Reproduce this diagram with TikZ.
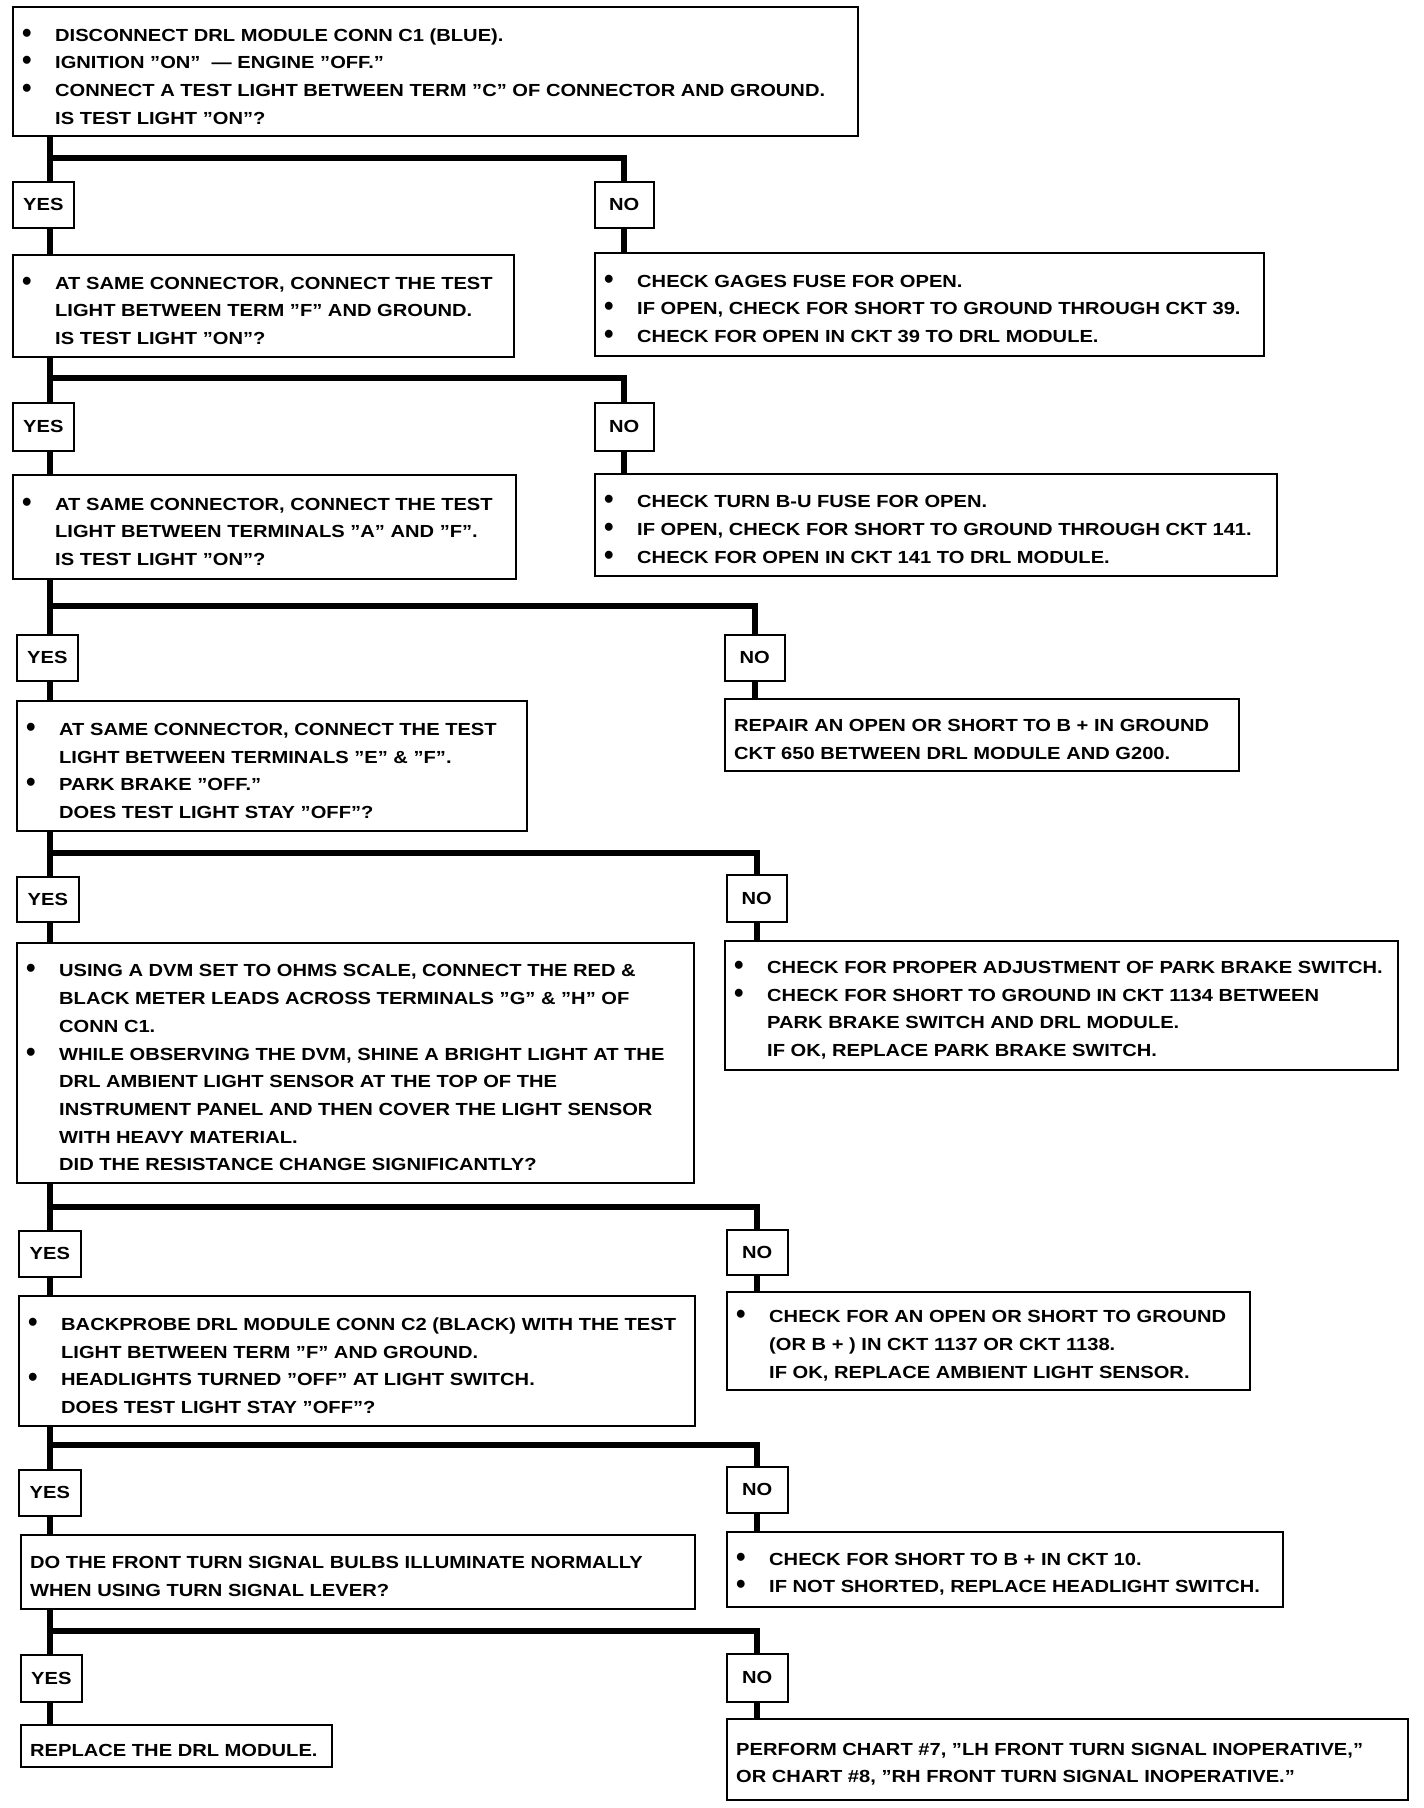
\documentclass[tikz,border=0pt]{standalone}
\usepackage{fontspec}
\setmainfont{Liberation Sans}[FakeStretch=1.15]
\newcommand\txt{\fontsize{17.5}{27.7}\selectfont\bfseries}
\newcommand\bul{\makebox[33pt][l]{\raisebox{-1pt}{\scalebox{1.35}[1.6]{•}}}}
\newcommand\ind{\hspace*{33pt}}
\tikzset{
  bx/.style={draw, line width=1.6pt, anchor=north west, inner sep=0pt},
  tx/.style={anchor=west, align=left, inner sep=0pt, font=\txt, yshift=-5pt},
  yn/.style={draw, line width=1.6pt, anchor=north west, align=center, inner sep=0pt, font=\txt},
  conn/.style={line width=6pt},
}
\begin{document}
\begin{tikzpicture}[x=1pt, y=-1pt]
\useasboundingbox (0,0) rectangle (1424,1808);
% level 1
\node[bx, minimum width=845pt, minimum height=129pt] (b1) at (12,6) {};
\node[tx] (b1t) at ([xshift=10pt]b1.west) {%
\bul DISCONNECT DRL MODULE CONN C1 (BLUE).\\
\bul IGNITION "ON" \ --- ENGINE "OFF."\\
\bul CONNECT A TEST LIGHT BETWEEN TERM "C" OF CONNECTOR AND GROUND.\\
\ind IS TEST LIGHT "ON"?};
\node[yn, minimum width=61pt, minimum height=46pt] (y1) at (12,181) {YES};
\node[yn, minimum width=59pt, minimum height=46pt] (n1) at (594,181) {NO};
% level 2
\node[bx, minimum width=501pt, minimum height=102pt] (b2) at (12,254) {};
\node[tx] (b2t) at ([xshift=10pt]b2.west) {%
\bul AT SAME CONNECTOR, CONNECT THE TEST\\
\ind LIGHT BETWEEN TERM "F" AND GROUND.\\
\ind IS TEST LIGHT "ON"?};
\node[bx, minimum width=669pt, minimum height=103pt] (r2) at (594,252) {};
\node[tx] (r2t) at ([xshift=10pt]r2.west) {%
\bul CHECK GAGES FUSE FOR OPEN.\\
\bul IF OPEN, CHECK FOR SHORT TO GROUND THROUGH CKT 39.\\
\bul CHECK FOR OPEN IN CKT 39 TO DRL MODULE.};
\node[yn, minimum width=61pt, minimum height=48pt] (y2) at (12,402) {YES};
\node[yn, minimum width=59pt, minimum height=48pt] (n2) at (594,402) {NO};
% level 3
\node[bx, minimum width=503pt, minimum height=104pt] (b3) at (12,474) {};
\node[tx] (b3t) at ([xshift=10pt]b3.west) {%
\bul AT SAME CONNECTOR, CONNECT THE TEST\\
\ind LIGHT BETWEEN TERMINALS "A" AND "F".\\
\ind IS TEST LIGHT "ON"?};
\node[bx, minimum width=682pt, minimum height=102pt] (r3) at (594,473) {};
\node[tx] (r3t) at ([xshift=10pt]r3.west) {%
\bul CHECK TURN B-U FUSE FOR OPEN.\\
\bul IF OPEN, CHECK FOR SHORT TO GROUND THROUGH CKT 141.\\
\bul CHECK FOR OPEN IN CKT 141 TO DRL MODULE.};
\node[yn, minimum width=61pt, minimum height=46pt] (y3) at (16,634) {YES};
\node[yn, minimum width=60pt, minimum height=46pt] (n3) at (724,634) {NO};
% level 4
\node[bx, minimum width=510pt, minimum height=130pt] (b4) at (16,700) {};
\node[tx] (b4t) at ([xshift=10pt]b4.west) {%
\bul AT SAME CONNECTOR, CONNECT THE TEST\\
\ind LIGHT BETWEEN TERMINALS "E" \& "F".\\
\bul PARK BRAKE "OFF."\\
\ind DOES TEST LIGHT STAY "OFF"?};
\node[bx, minimum width=514pt, minimum height=72pt] (r4) at (724,698) {};
\node[tx] (r4t) at ([xshift=10pt]r4.west) {%
REPAIR AN OPEN OR SHORT TO B + IN GROUND\\
CKT 650 BETWEEN DRL MODULE AND G200.};
\node[yn, minimum width=62pt, minimum height=45pt] (y4) at (16,876) {YES};
\node[yn, minimum width=60pt, minimum height=47pt] (n4) at (726,874) {NO};
% level 5
\node[bx, minimum width=677pt, minimum height=240pt] (b5) at (16,942) {};
\node[tx] (b5t) at ([xshift=10pt]b5.west) {%
\bul USING A DVM SET TO OHMS SCALE, CONNECT THE RED \&\\
\ind BLACK METER LEADS ACROSS TERMINALS "G" \& "H" OF\\
\ind CONN C1.\\
\bul WHILE OBSERVING THE DVM, SHINE A BRIGHT LIGHT AT THE\\
\ind DRL AMBIENT LIGHT SENSOR AT THE TOP OF THE\\
\ind INSTRUMENT PANEL AND THEN COVER THE LIGHT SENSOR\\
\ind WITH HEAVY MATERIAL.\\
\ind DID THE RESISTANCE CHANGE SIGNIFICANTLY?};
\node[bx, minimum width=673pt, minimum height=129pt] (r5) at (724,940) {};
\node[tx] (r5t) at ([xshift=10pt]r5.west) {%
\bul CHECK FOR PROPER ADJUSTMENT OF PARK BRAKE SWITCH.\\
\bul CHECK FOR SHORT TO GROUND IN CKT 1134 BETWEEN\\
\ind PARK BRAKE SWITCH AND DRL MODULE.\\
\ind IF OK, REPLACE PARK BRAKE SWITCH.};
\node[yn, minimum width=62pt, minimum height=46pt] (y5) at (18,1230) {YES};
\node[yn, minimum width=61pt, minimum height=45pt] (n5) at (726,1229) {NO};
% level 6
\node[bx, minimum width=676pt, minimum height=130pt] (b6) at (18,1295) {};
\node[tx] (b6t) at ([xshift=10pt]b6.west) {%
\bul BACKPROBE DRL MODULE CONN C2 (BLACK) WITH THE TEST\\
\ind LIGHT BETWEEN TERM "F" AND GROUND.\\
\bul HEADLIGHTS TURNED "OFF" AT LIGHT SWITCH.\\
\ind DOES TEST LIGHT STAY "OFF"?};
\node[bx, minimum width=523pt, minimum height=98pt] (r6) at (726,1291) {};
\node[tx] (r6t) at ([xshift=10pt]r6.west) {%
\bul CHECK FOR AN OPEN OR SHORT TO GROUND\\
\ind (OR B + ) IN CKT 1137 OR CKT 1138.\\
\ind IF OK, REPLACE AMBIENT LIGHT SENSOR.};
\node[yn, minimum width=62pt, minimum height=46pt] (y6) at (18,1469) {YES};
\node[yn, minimum width=61pt, minimum height=46pt] (n6) at (726,1466) {NO};
% level 7
\node[bx, minimum width=674pt, minimum height=74pt] (b7) at (20,1534) {};
\node[tx] (b7t) at ([xshift=10pt]b7.west) {%
DO THE FRONT TURN SIGNAL BULBS ILLUMINATE NORMALLY\\
WHEN USING TURN SIGNAL LEVER?};
\node[bx, minimum width=556pt, minimum height=75pt] (r7) at (726,1531) {};
\node[tx] (r7t) at ([xshift=10pt]r7.west) {%
\bul CHECK FOR SHORT TO B + IN CKT 10.\\
\bul IF NOT SHORTED, REPLACE HEADLIGHT SWITCH.};
\node[yn, minimum width=61pt, minimum height=47pt] (y7) at (20,1654) {YES};
\node[yn, minimum width=61pt, minimum height=48pt] (n7) at (726,1653) {NO};
% level 8
\node[bx, minimum width=311pt, minimum height=42pt] (b8) at (20,1724) {};
\node[tx] (b8t) at ([xshift=10pt]b8.west) {REPLACE THE DRL MODULE.};
\node[bx, minimum width=681pt, minimum height=81pt] (r8) at (726,1718) {};
\node[tx] (r8t) at ([xshift=10pt]r8.west) {%
PERFORM CHART \#7, "LH FRONT TURN SIGNAL INOPERATIVE,"\\
OR CHART \#8, "RH FRONT TURN SIGNAL INOPERATIVE."};
% junctions
\coordinate (j1) at (50,158);
\coordinate (j2) at (50,378);
\coordinate (j3) at (50,606);
\coordinate (j4) at (50,853);
\coordinate (j5) at (50,1207);
\coordinate (j6) at (50,1445);
\coordinate (j7) at (50,1631);
% connectors
\foreach \b/\y/\j/\n/\nb/\r in {b1/y1/j1/n1/b2/r2, b2/y2/j2/n2/b3/r3, b3/y3/j3/n3/b4/r4, b4/y4/j4/n4/b5/r5, b5/y5/j5/n5/b6/r6, b6/y6/j6/n6/b7/r7, b7/y7/j7/n7/b8/r8}{
  \draw[conn] (\b.south -| \j) -- (\y.north -| \j);
  \draw[conn] (\y.south -| \j) -- (\nb.north -| \j);
  \draw[conn] (\j) -| (\n.north);
  \draw[conn] (\n.south) -- (\r.north -| \n.south);
}
\end{tikzpicture}
\end{document}
